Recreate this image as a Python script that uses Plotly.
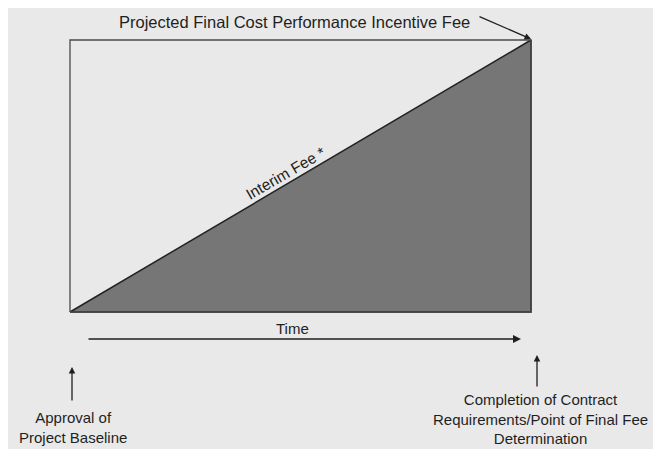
import plotly.graph_objects as go

# Diagram data (normalized time 0..1, fee 0..1)
box_time = [0, 0, 1, 1, 0]
box_fee = [0, 1, 1, 0, 0]
interim_time = [0, 1, 1, 0]
interim_fee = [0, 1, 0, 0]

title_text = "Projected Final Cost Performance Incentive Fee"
interim_label = "Interim Fee *"
time_label = "Time"
start_label = "Approval of<br>Project Baseline"
end_label = "Completion of Contract<br>Requirements/Point of Final Fee<br>Determination"

FONT = "Liberation Sans, Arial, sans-serif"
INK = "#1f1f1f"
OFF = 8  # page body margin
W, H = 661 - OFF, 449 - OFF

# screen pixel -> data: x = (X-70)/461 ; y = (312-Y)/272
def px(X):
    return (X - 70) / 461

def py(Y):
    return (312 - Y) / 272

xr = [px(OFF), px(OFF + W)]
yr = [py(OFF + H), py(OFF)]

fig = go.Figure()
fig.add_trace(go.Scatter(x=interim_time, y=interim_fee, mode="lines", fill="toself",
                         fillcolor="#767676", line=dict(color="#222", width=1.5),
                         hoverinfo="skip", showlegend=False))
fig.add_trace(go.Scatter(x=box_time, y=box_fee, mode="lines",
                         line=dict(color="#4a4a4a", width=1.3),
                         hoverinfo="skip", showlegend=False))

def arrow(x0, y0, x1, y1, w=1.3):
    return dict(x=px(x1), y=py(y1), ax=px(x0), ay=py(y0), xref="x", yref="y",
                axref="x", ayref="y", text="", showarrow=True, arrowhead=2,
                arrowsize=1, arrowwidth=w, arrowcolor=INK)

ann = [
    dict(x=px(294), y=py(22), text=title_text, showarrow=False,
         font=dict(family=FONT, size=16.5, color=INK)),
    arrow(478, 16, 531, 39),
    dict(x=px(285), y=py(173), text=interim_label, showarrow=False, textangle=-30,
         font=dict(family=FONT, size=15.5, color=INK)),
    dict(x=px(292), y=py(328), text=time_label, showarrow=False,
         font=dict(family=FONT, size=15, color=INK)),
    arrow(87, 339, 521, 339, 1.6),
    arrow(72, 402, 72, 367),
    arrow(537, 388, 537, 355),
    dict(x=px(73), y=py(427), text=start_label, showarrow=False,
         font=dict(family=FONT, size=15, color=INK)),
    dict(x=px(540), y=py(419), text=end_label, showarrow=False,
         font=dict(family=FONT, size=15, color=INK)),
]

fig.update_layout(
    width=W, height=H, margin=dict(l=0, r=0, t=0, b=0),
    paper_bgcolor="#e9e9e9", plot_bgcolor="#e9e9e9",
    xaxis=dict(range=xr, visible=False, fixedrange=True),
    yaxis=dict(range=yr, visible=False, fixedrange=True),
    annotations=ann, showlegend=False,
)
fig.write_html("out.html")
